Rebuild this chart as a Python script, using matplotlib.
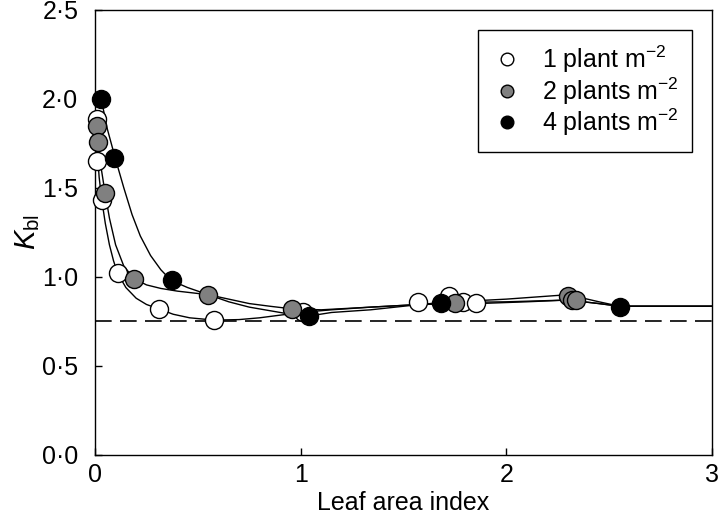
import matplotlib
matplotlib.use('Agg')
from matplotlib import pyplot as plt

plt.rcParams['font.family'] = ['Liberation Sans', 'DejaVu Sans']
plt.rcParams['mathtext.fontset'] = 'custom'
plt.rcParams['mathtext.rm'] = 'Liberation Sans'
plt.rcParams['mathtext.it'] = 'Liberation Sans:italic'

# measured points (leaf area index, K_bl)
lai_1 = [0.008, 0.011, 0.033, 0.11, 0.31, 0.58, 1.01, 1.57, 1.72, 1.79, 1.85]
kbl_1 = [1.89, 1.65, 1.43, 1.02, 0.82, 0.757, 0.80, 0.86, 0.89, 0.86, 0.855]

lai_2 = [0.008, 0.016, 0.049, 0.19, 0.55, 0.96, 1.75, 2.30, 2.32, 2.34]
kbl_2 = [1.85, 1.76, 1.47, 0.99, 0.90, 0.82, 0.855, 0.89, 0.87, 0.87]

lai_4 = [0.03, 0.093, 0.373, 1.04, 1.68, 2.55]
kbl_4 = [2.00, 1.67, 0.98, 0.78, 0.855, 0.83]

# fitted curves
fit_x_1 = [0.0, 0.01, 0.02, 0.033, 0.05, 0.07, 0.09, 0.11, 0.15, 0.2, 0.25, 0.31,
           0.38, 0.46, 0.58, 0.7, 0.8, 0.9, 1.0, 1.15, 1.34, 1.58, 1.86, 2.1,
           2.3, 2.45, 2.55, 2.75, 3.0]
fit_y_1 = [1.92, 1.72, 1.56, 1.43, 1.30, 1.18, 1.09, 1.02, 0.94, 0.88, 0.845, 0.82,
           0.79, 0.77, 0.757, 0.76, 0.77, 0.785, 0.80, 0.815, 0.83, 0.845, 0.85, 0.86,
           0.87, 0.85, 0.835, 0.835, 0.835]

fit_x_2 = [0.0, 0.01, 0.02, 0.03, 0.049, 0.07, 0.1, 0.14, 0.19, 0.25, 0.32, 0.4,
           0.55, 0.65, 0.75, 0.85, 0.96, 1.1, 1.34, 1.58, 1.75, 2.0, 2.3, 2.45,
           2.55, 2.75, 3.0]
fit_y_2 = [1.90, 1.80, 1.70, 1.61, 1.47, 1.33, 1.18, 1.06, 0.99, 0.955, 0.935, 0.92,
           0.90, 0.875, 0.85, 0.835, 0.82, 0.815, 0.83, 0.845, 0.86, 0.875, 0.90, 0.86,
           0.835, 0.835, 0.835]

fit_x_4 = [0.03, 0.06, 0.10, 0.14, 0.18, 0.22, 0.27, 0.32, 0.37, 0.45, 0.55, 0.65,
           0.75, 0.85, 0.95, 1.04, 1.15, 1.34, 1.58, 1.68, 2.0, 2.3, 2.45, 2.55,
           2.75, 3.0]
fit_y_4 = [2.0, 1.83, 1.66, 1.50, 1.35, 1.23, 1.12, 1.04, 0.98, 0.94, 0.90, 0.86,
           0.83, 0.81, 0.79, 0.78, 0.80, 0.815, 0.845, 0.855, 0.86, 0.87, 0.85, 0.835,
           0.835, 0.835]

k_ref = 0.75

xticks = [0, 1, 2, 3]
xtick_labels = ['0', '1', '2', '3']
yticks = [0.0, 0.5, 1.0, 1.5, 2.0, 2.5]
ytick_labels = ['0·0', '0·5', '1·0', '1·5', '2·0', '2·5']

labels = ['1 plant m$^{-2}$', '2 plants m$^{-2}$', '4 plants m$^{-2}$']
colours = ['white', '#808080', 'black']

fig = plt.figure(figsize=(7.2, 5.24), dpi=100)
ax = fig.add_axes([0.132, 0.132, 0.857, 0.849])

for fx, fy in [(fit_x_1, fit_y_1), (fit_x_2, fit_y_2), (fit_x_4, fit_y_4)]:
	ax.plot(fx, fy, color='black', lw=1.0, zorder=2)

ax.axhline(k_ref, color='black', lw=1.2, dashes=(10, 5), zorder=1)

for lx, ky, c, lab in zip([lai_1, lai_2, lai_4], [kbl_1, kbl_2, kbl_4], colours, labels):
	ax.plot(lx, ky, 'o', ms=13, mfc=c, mec='black', mew=1.0, ls='none',
			label=lab, zorder=3, clip_on=False)

ax.set_xlim(0, 3)
ax.set_ylim(0, 2.5)
ax.set_xticks(xticks)
ax.set_xticklabels(xtick_labels)
ax.set_yticks(yticks)
ax.set_yticklabels(ytick_labels)
ax.tick_params(direction='in', length=5, width=1, labelsize=18)
ax.tick_params(axis='y', pad=12)
ax.tick_params(axis='x', pad=6)
for s in ax.spines.values():
	s.set_linewidth(1.0)

ax.set_xlabel('Leaf area index', fontsize=18, labelpad=3)
ax.set_ylabel(r'$K_{\mathrm{bl}}$', fontsize=21, labelpad=0)

leg = ax.legend(loc='upper right', bbox_to_anchor=(0.968, 0.955), borderaxespad=0,
				fontsize=18, markerscale=0.7, fancybox=False, framealpha=1,
				edgecolor='black', handletextpad=0.8, handlelength=1.2,
				labelspacing=0.0, borderpad=0.55)
leg.get_frame().set_linewidth(1.0)

plt.savefig('out.png', dpi=100)
